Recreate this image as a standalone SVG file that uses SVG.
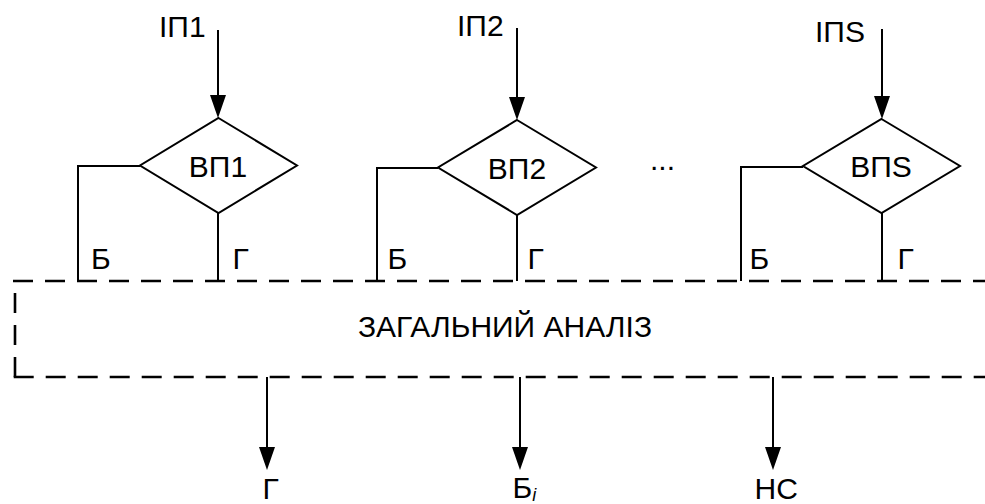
<svg xmlns="http://www.w3.org/2000/svg" width="985" height="504" viewBox="0 0 985 504">
<style>
text{font-family:"Liberation Sans",Arial,sans-serif;font-size:30px;fill:#000}
.ln{fill:none;stroke:#000;stroke-width:2}
.dash{fill:none;stroke:#000;stroke-width:2.6;stroke-dasharray:20 12}
.dia{fill:#fff;stroke:#000;stroke-width:2}
.ah{fill:#000}
</style>
<rect width="985" height="504" fill="#fff"/>
<g id="connectors">
<line class="ln" x1="218" y1="30" x2="218" y2="96"/>
<path class="ah" d="M210,95 L226,95 L218,118 Z"/>
<line class="ln" x1="517" y1="28" x2="517" y2="98"/>
<path class="ah" d="M509,97 L525,97 L517,120 Z"/>
<line class="ln" x1="882" y1="29" x2="882" y2="97"/>
<path class="ah" d="M874,96 L890,96 L882,119 Z"/>
<polyline class="ln" points="140,166 78,166 78,281"/>
<line class="ln" x1="218" y1="213" x2="218" y2="281"/>
<polyline class="ln" points="438,168 377,168 377,281"/>
<line class="ln" x1="517" y1="215" x2="517" y2="281"/>
<polyline class="ln" points="803,167 741,167 741,281"/>
<line class="ln" x1="882" y1="213" x2="882" y2="281"/>
<line class="ln" x1="267" y1="377" x2="267" y2="448"/>
<path class="ah" d="M259,447 L275,447 L267,470 Z"/>
<line class="ln" x1="520" y1="377" x2="520" y2="448"/>
<path class="ah" d="M512,447 L528,447 L520,470 Z"/>
<line class="ln" x1="773" y1="377" x2="773" y2="448"/>
<path class="ah" d="M765,447 L781,447 L773,470 Z"/>
</g>
<g id="analysis">
<line class="dash" x1="13" y1="281" x2="985" y2="281"/>
<line class="dash" x1="15" y1="377" x2="15" y2="281"/>
<line class="dash" x1="13.7" y1="377" x2="985" y2="377"/>
<text x="505" y="337" text-anchor="middle">ЗАГАЛЬНИЙ АНАЛІЗ</text>
</g>
<g id="vp1">
<text x="159" y="37">ІП1</text>
<polygon class="dia" points="218.5,118 297,165.5 218.5,213 140,165.5"/>
<text x="218" y="177" text-anchor="middle">ВП1</text>
<text x="91" y="269">Б</text>
<text x="232.5" y="269">Г</text>
</g>
<g id="vp2">
<text x="457" y="36">ІП2</text>
<polygon class="dia" points="517,120 596,167.5 517,215 438,167.5"/>
<text x="517" y="179" text-anchor="middle">ВП2</text>
<text x="387.5" y="269">Б</text>
<text x="527.5" y="269">Г</text>
</g>
<g id="dots">
<text x="650" y="170">...</text>
</g>
<g id="vps">
<text x="815" y="42">ІПS</text>
<polygon class="dia" points="881.5,119 960,166 881.5,213 803,166"/>
<text x="881" y="177" text-anchor="middle">ВПS</text>
<text x="749.5" y="269">Б</text>
<text x="897.5" y="269">Г</text>
</g>
<g id="outputs">
<text x="262.5" y="499">Г</text>
<text x="512.5" y="498">Б<tspan font-size="18" font-style="italic" dy="3">i</tspan></text>
<text x="754.5" y="499">НС</text>
</g>
</svg>
